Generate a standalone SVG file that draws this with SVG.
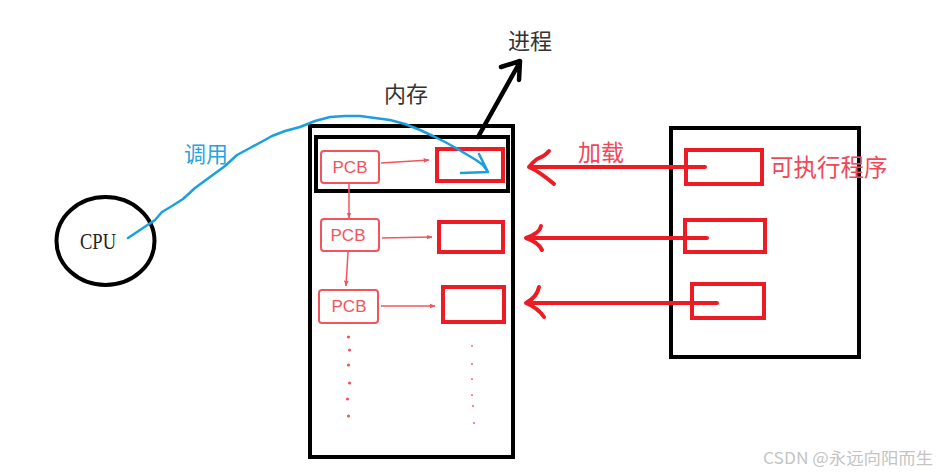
<svg xmlns="http://www.w3.org/2000/svg" width="938" height="473" viewBox="0 0 938 473">
<defs>
<style>
.blk{fill:none;stroke:#000;stroke-width:4}
.red{fill:none;stroke:#ed1c24;stroke-width:4}
.pcb{fill:#fff;stroke:#f2545e;stroke-width:2}
.pcbt{font-family:"Liberation Sans","Noto Sans",sans-serif;font-size:17px;fill:#f2545e;text-anchor:middle}
.thin{fill:none;stroke:#f2545e;stroke-width:1.5}
.load{fill:none;stroke:#ed1c24;stroke-width:4;stroke-linecap:round;stroke-linejoin:round}
.cjk{font-family:"Noto Sans CJK SC","Liberation Sans",sans-serif}
.dot{fill:#f2545e}
</style>
<marker id="ah" viewBox="0 0 10 10" refX="9" refY="5" markerWidth="6" markerHeight="6" orient="auto" markerUnits="userSpaceOnUse">
<path d="M0,1 L10,5 L0,9 z" fill="#f2545e"/>
</marker>
</defs>
<rect width="938" height="473" fill="#fff"/>

<g id="cpu">
<ellipse cx="105.5" cy="241" rx="49" ry="44" class="blk"/>
<text x="98" y="249" font-family="Liberation Serif,serif" font-size="24" text-anchor="middle" fill="#222" textLength="36" lengthAdjust="spacingAndGlyphs">CPU</text>
</g>

<g id="memory">
<rect x="310" y="126" width="203" height="331" class="blk"/>
<text x="406" y="102" class="cjk" font-size="22" fill="#333" text-anchor="middle">内存</text>
</g>

<g id="process">
<rect x="316" y="137" width="192" height="54" class="blk"/>
<text x="530" y="49" class="cjk" font-size="22" fill="#333" text-anchor="middle">进程</text>
</g>

<g id="pcb1">
<rect x="321" y="151" width="58" height="32" rx="3" class="pcb"/>
<text x="350" y="173" class="pcbt">PCB</text>
</g>
<g id="mem1"><rect x="437" y="149" width="66" height="32" class="red"/></g>

<g id="pcb2">
<rect x="321" y="219" width="58" height="32" rx="3" class="pcb"/>
<text x="348" y="241" class="pcbt">PCB</text>
</g>
<g id="mem2"><rect x="439" y="222" width="64" height="30" class="red"/></g>

<g id="pcb3">
<rect x="319" y="290" width="59" height="33" rx="3" class="pcb"/>
<text x="349" y="312" class="pcbt">PCB</text>
</g>
<g id="mem3"><rect x="443" y="287" width="61" height="35" class="red"/></g>

<g id="dots">
<circle cx="348.5" cy="337" r="1.6" class="dot"/>
<circle cx="349.5" cy="350" r="1.6" class="dot"/>
<circle cx="348.5" cy="365" r="1.6" class="dot"/>
<circle cx="349.5" cy="383" r="1.6" class="dot"/>
<circle cx="347.5" cy="399" r="1.6" class="dot"/>
<circle cx="348.5" cy="416" r="1.6" class="dot"/>
<circle cx="472" cy="346" r="0.9" class="dot"/>
<circle cx="472" cy="364" r="0.9" class="dot"/>
<circle cx="472" cy="379" r="0.9" class="dot"/>
<circle cx="472" cy="395" r="0.9" class="dot"/>
<circle cx="473" cy="406" r="0.9" class="dot"/>
<circle cx="474" cy="423" r="0.9" class="dot"/>
</g>

<g id="program">
<rect x="671" y="128" width="188" height="229" class="blk"/>
<rect x="686" y="150" width="76" height="34" class="red"/>
<rect x="685" y="220" width="80" height="32" class="red"/>
<rect x="692" y="284" width="72" height="34" class="red"/>
<text x="770" y="176" class="cjk" font-size="23.5" fill="#f04858">可执行程序</text>
</g>

<g id="connectors">
<path d="M381,163 L429,160" class="thin" marker-end="url(#ah)"/>
<path d="M382,238 L432,237" class="thin" marker-end="url(#ah)"/>
<path d="M381,306 L435,306" class="thin" marker-end="url(#ah)"/>
<path d="M349,184 L349,218" class="thin" marker-end="url(#ah)"/>
<path d="M348,252 L346,286" class="thin" marker-end="url(#ah)"/>

<path d="M705,167 L529,167 M549,151 Q545,156 537,159 Q533,162 529,167 Q540,172 554,184" class="load"/>
<path d="M707,238 L526,238 M541,226 Q540,233 526,238 Q538,242 542,250" class="load"/>
<path d="M717,303 L526,303 M539,287 Q537,297 526,303 Q538,308 544,317" class="load"/>
<text x="578" y="161" class="cjk" font-size="23" fill="#f04858">加载</text>

<path d="M478,137 L520,62 M501,67 L520,61 L519,80" fill="none" stroke="#000" stroke-width="4.5" stroke-linecap="round" stroke-linejoin="round"/>

<path d="M128,238 L140,230 L155,220 L162,212 L172,206 L183,199 L195,188 L210,177 L225,166 L237,155 L250,148 L263,141 L272,136 L285,131 L300,127 L315,121 L330,117 L345,116 L360,116 L375,118 L390,120 L405,124 L420,130 L433,136 L445,142 L456,148 L466,154 L476,160 L483,165 L488,172 L461,173 M488,172 L479,154" fill="none" stroke="#1aa0e0" stroke-width="2.5" stroke-linecap="round" stroke-linejoin="round"/>
<text x="184" y="162" class="cjk" font-size="22" fill="#29a3e0">调用</text>
</g>

<text x="763" y="464" class="cjk" font-size="16" fill="#c4c4c4" textLength="170" lengthAdjust="spacingAndGlyphs">CSDN @永远向阳而生</text>
</svg>
